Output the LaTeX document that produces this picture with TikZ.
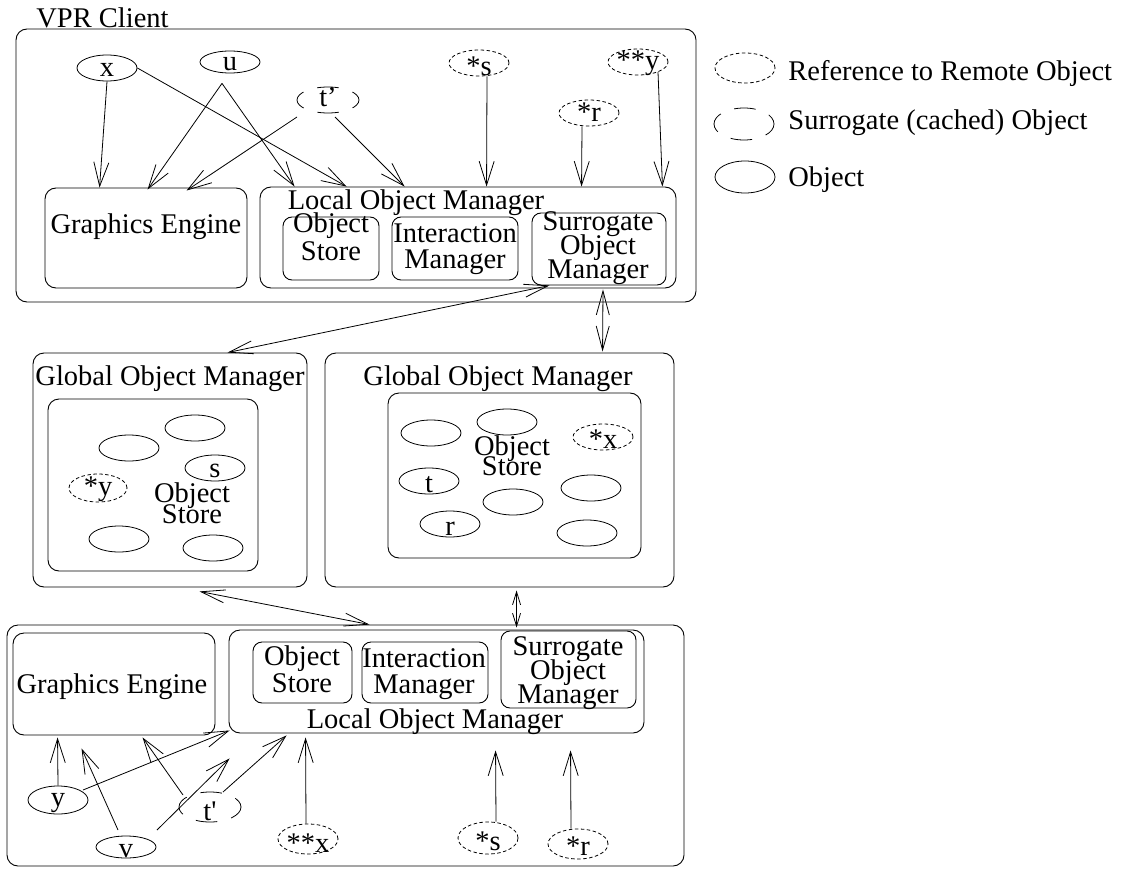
\documentclass[tikz,border=0pt]{standalone}
\usepackage{fontspec}
\setmainfont{Liberation Serif}
\usetikzlibrary{shapes.geometric,arrows.meta,calc}
\newcommand\olab[2][8pt]{\makebox[0pt]{\raisebox{-#1}[0pt][0pt]{#2}}}
\newcommand\mlfont[1]{\fontsize{28.5}{#1}\selectfont\lineskiplimit=-50pt\relax}
\tikzset{
 box/.style={draw, rectangle, rounded corners=11pt, inner sep=0pt, line width=0.9pt},
 obj/.style={draw, ellipse, minimum width=60pt, minimum height=26pt, inner sep=0pt},
 ref/.style={obj, dash pattern=on 3.5pt off 2.5pt},
 sur/.style={obj, minimum width=62pt, dash pattern=on 21.6pt off 14.4pt, dash phase=10.8pt},
 arr/.style={-{Straight Barb[length=24pt,width=15pt]}},
 darr/.style={{Straight Barb[length=24pt,width=13pt]}-{Straight Barb[length=24pt,width=13pt]}},
 sdarr/.style={{Straight Barb[length=13pt,width=8pt]}-{Straight Barb[length=13pt,width=8pt]}},
 txt/.style={inner sep=0pt, anchor=base},
 ml/.style={txt, align=center, font={\mlfont{#1}}},
}
\begin{document}
\begin{tikzpicture}[x=1pt,y=-1pt, font=\fontsize{28.5}{30}\selectfont, line width=0.8pt]
\useasboundingbox (0,0) rectangle (1123,869);

% ---------- top client ----------
\node[box, minimum width=680pt, minimum height=273pt] (client1) at (356,165.5) {};
\node[txt, anchor=base west] (vpr) at (36,28) {VPR Client};
\node[box, minimum width=202pt, minimum height=100pt] (ge1) at (146,238) {};
\node[txt] (ge1t) at (146,233) {Graphics Engine};
\node[box, minimum width=416pt, minimum height=101pt] (lom1) at (468,237.5) {};
\node[txt] (lom1t) at (416,209) {Local Object Manager};
\node[box, rounded corners=9pt, minimum width=96pt, minimum height=63pt] (os1) at (331,248.5) {};
\node[ml=28pt] (os1t) at (331,260) {Object\\Store};
\node[box, rounded corners=9pt, minimum width=126pt, minimum height=63pt] (im1) at (455,248.5) {};
\node[ml=26pt] (im1t) at (455,268) {Interaction\\Manager};
\node[box, rounded corners=9pt, minimum width=134pt, minimum height=72pt] (som1) at (599,249) {};
\node[ml=24pt] (som1t) at (598,278) {Surrogate\\Object\\Manager};

\node[obj] (x1) at (107,68) {\olab[9pt]{x}};
\node[obj, minimum height=22pt] (u1) at (230,62) {\olab[9pt]{u}};
\node[sur] (t1) at (328,100) {\olab[7pt]{t’}};
\node[ref] (s1) at (479,63) {\olab[13pt]{*s}};
\node[ref] (yy1) at (638,62) {\olab[8pt]{**y}};
\node[ref] (r1) at (589,113) {\olab[9pt]{*r}};

\draw[arr] (x1.south) -- ($(ge1.north west)+(55,0)$);
\draw[arr] (x1.east) -- ($(lom1.north west)+(87,0)$);
\draw[arr] ($(u1.south)+(-8,10)$) -- ($(ge1.north west)+(103,2)$);
\draw[arr] ($(u1.south)+(-8,10)$) -- ($(lom1.north west)+(35,0)$);
\draw[arr] ($(t1)+(-31,17)$) -- ($(ge1.north west)+(142,3)$);
\draw[arr] ($(t1)+(7,17)$) -- ($(lom1.north west)+(145,0)$);
\draw[arr] ($(s1.south)+(8,0)$) -- ($(lom1.north west)+(227,0)$);
\draw[arr] ($(r1.south)+(-7,0)$) -- ($(lom1.north west)+(322,0)$);
\draw[arr] ($(yy1)+(20,10)$) -- ($(lom1.north east)+(-14,0)$);

% ---------- legend ----------
\node[ref, minimum height=30pt] (lg1) at (745,68) {};
\node[txt, anchor=base west] (lg1t) at (788,81) {Reference to Remote Object};
\node[sur, minimum width=60pt, minimum height=32pt] (lg2) at (744,124) {};
\node[txt, anchor=base west] (lg2t) at (788,130) {Surrogate (cached) Object};
\node[obj, minimum height=32pt] (lg3) at (745,177) {};
\node[txt, anchor=base west] (lg3t) at (788,186) {Object};

% ---------- global object managers ----------
\node[box, minimum width=274pt, minimum height=234pt] (gom1) at (170,470) {};
\node[txt] (gom1t) at (170,385) {Global Object Manager};
\node[box, minimum width=210pt, minimum height=172pt] (gos1) at (153,485) {};
\node[ml=21pt] (gos1t) at (192,523) {Object\\Store};
\node[obj] (g1a) at (129,448) {};
\node[obj] (g1b) at (195,428) {};
\node[obj] (g1s) at (215,468) {\olab[9pt]{s}};
\node[ref, minimum width=58pt, minimum height=28pt] (g1y) at (98,488) {\olab[7pt]{*y}};
\node[obj] (g1c) at (119,539) {};
\node[obj] (g1d) at (213,548) {};

\node[box, minimum width=349pt, minimum height=234pt] (gom2) at (499.5,470) {};
\node[txt] (gom2t) at (498,385) {Global Object Manager};
\node[box, minimum width=253pt, minimum height=165pt] (gos2) at (514.5,475.5) {};
\node[ml=20pt] (gos2t) at (512,475) {Object\\Store};
\node[obj] (g2a) at (431,433) {};
\node[obj] (g2b) at (507,422) {};
\node[ref] (g2x) at (603,437) {\olab[11pt]{*x}};
\node[obj] (g2t) at (429,481) {\olab[11pt]{t}};
\node[obj] (g2c) at (591,488) {};
\node[obj] (g2d) at (513,502) {};
\node[obj] (g2r) at (450,524) {\olab[11pt]{r}};
\node[obj] (g2e) at (587,533) {};

% ---------- bottom client ----------
\node[box, minimum width=677pt, minimum height=241pt] (client2) at (345.5,745.5) {};
\node[box, minimum width=202pt, minimum height=102pt] (ge2) at (114,684) {};
\node[txt] (ge2t) at (112,693) {Graphics Engine};
\node[box, minimum width=415pt, minimum height=103pt] (lom2) at (436.5,681.5) {};
\node[txt] (lom2t) at (435,728) {Local Object Manager};
\node[box, rounded corners=9pt, minimum width=99pt, minimum height=61pt] (os2) at (302.5,672.5) {};
\node[ml=27pt] (os2t) at (302,692) {Object\\Store};
\node[box, rounded corners=9pt, minimum width=126pt, minimum height=61pt] (im2) at (425,672.5) {};
\node[ml=26pt] (im2t) at (424,693) {Interaction\\Manager};
\node[box, rounded corners=9pt, minimum width=135pt, minimum height=77pt] (som2) at (568.5,669.5) {};
\node[ml=24pt] (som2t) at (568,703) {Surrogate\\Object\\Manager};

\node[obj, minimum height=28pt] (y2) at (58,800) {\olab[6pt]{y}};
\node[obj, minimum height=22pt] (v2) at (126,847) {\olab[10pt]{v}};
\node[sur, minimum height=30pt] (t2) at (210,807) {\olab[13pt]{t\textquotesingle}};
\node[ref, minimum height=30pt] (xx2) at (308,839) {\olab[13pt]{**x}};
\node[ref, minimum height=32pt] (s2) at (488,838) {\olab[12pt]{*s}};
\node[ref, minimum height=30pt] (r2) at (578,844) {\olab[11pt]{*r}};

\draw[arr] (y2.north) -- ($(ge2.south west)+(45,2)$);
\draw[arr] ($(y2)+(25,-10)$) -- ($(lom2.south west)+(1,-3)$);
\draw[arr] ($(v2)+(-8,-17)$) -- ($(ge2.south west)+(69,13)$);
\draw[arr] ($(v2)+(31,-17)$) -- ($(lom2.south west)+(1,25)$);
\draw[arr] ($(t2)+(-27,-12)$) -- ($(ge2.south west)+(130,2)$);
\draw[arr] ($(t2)+(13,-15)$) -- ($(lom2.south west)+(58,2)$);
\draw[arr] ($(xx2.north)+(-2,0)$) -- ($(lom2.south west)+(77,4)$);
\draw[arr] ($(s2.north)+(8,0)$) -- ($(lom2.south west)+(267,17)$);
\draw[arr] ($(r2.north)+(-7,0)$) -- ($(lom2.south west)+(342,17)$);

% ---------- connections between tiers ----------
\draw[darr] ($(som1.south west)+(18,0)$) -- ($(gom1.north west)+(195,0)$);
\draw[darr] ($(som1.south)+(4,4)$) -- ($(gom2.north west)+(278,-1)$);
\draw[darr] ($(gom1.south west)+(167,4)$) -- ($(client2.north west)+(363,0)$);
\draw[sdarr] ($(gom2.south west)+(192,3)$) -- ($(lom2.north west)+(288,-2)$);
\end{tikzpicture}
\end{document}
